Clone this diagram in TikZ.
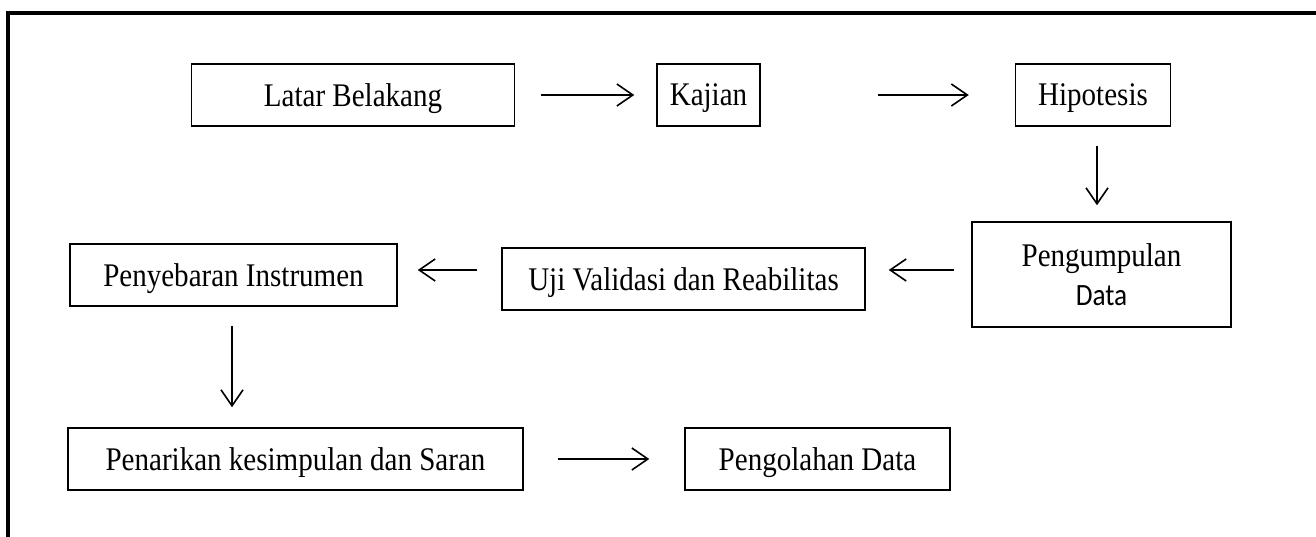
\documentclass[tikz,border=0pt]{standalone}
\usepackage{fontspec}
\setmainfont{Liberation Serif}[FakeStretch=0.88]
\newfontfamily\calibrifont{Carlito}[FakeStretch=0.88]
\usetikzlibrary{arrows.meta,positioning}

\tikzset{
    box/.style={draw, line width=1.5pt, fill=white, inner sep=0pt, text depth=0pt,
        minimum height=62pt, font=\fontsize{33}{39}\selectfont},
    link/.style={line width=1.6pt, -{Straight Barb[length=16pt,width=22pt,line width=1.6pt]}}
}

\begin{document}
\begin{tikzpicture}[x=1pt, y=-1pt]
                    \useasboundingbox (0, 0) rectangle (1316, 537);
                    % Frame
                    \draw[line width=4pt] (8, 537) -- (8, 13) -- (1316, 13);
                    % Boxes, first row
                    \node[box, minimum width=323pt] (latar) at (353, 95) {Latar Belakang};
                    \node[box, minimum width=103pt] (kajian) at (708.5, 95) {Kajian};
                    \node[box, minimum width=155pt] (hipotesis) at (1093, 95) {Hipotesis};
                    % Boxes, second row
                    \node[box, minimum width=259pt, minimum height=105pt, align=center] (pengumpulan) at (1101.5, 274.5) {Pengumpulan\\{\calibrifont\fontsize{31}{38}\selectfont Data}};
                    \node[box, minimum width=363pt] (uji) at (683.5, 279) {Uji Validasi dan Reabilitas};
                    \node[box, minimum width=327pt] (penyebaran) at (233.5, 275) {Penyebaran Instrumen};
                    % Boxes, third row
                    \node[box, minimum width=455pt] (penarikan) at (295.5, 459) {Penarikan kesimpulan dan Saran};
                    \node[box, minimum width=265pt] (pengolahan) at (817.5, 459) {Pengolahan Data};
                    % Arrows
                    \draw[link, shorten <=26pt, shorten >=22pt] (latar.east) -- (kajian.west);
                    \draw[link, shorten <=117pt, shorten >=46pt] (kajian.east) -- (hipotesis.west);
                    \draw[link, shorten <=19pt, shorten >=16pt] ([xshift=4pt]hipotesis.south) -- ([xshift=4pt]hipotesis.south |- pengumpulan.north);
                    \draw[link, shorten <=17pt, shorten >=23pt] ([yshift=4.5pt]pengumpulan.west) -- ([yshift=9pt]uji.east);
                    \draw[link, shorten <=24pt, shorten >=20pt] ([yshift=9pt]uji.west) -- ([yshift=5pt]penyebaran.east);
                    \draw[link, shorten <=19pt, shorten >=20pt] ([xshift=-1.5pt]penyebaran.south) -- ([xshift=-1.5pt]penyebaran.south |- penarikan.north);
                    \draw[link, shorten <=34pt, shorten >=35pt] (penarikan.east) -- (pengolahan.west);
                \end{tikzpicture}
\end{document}
